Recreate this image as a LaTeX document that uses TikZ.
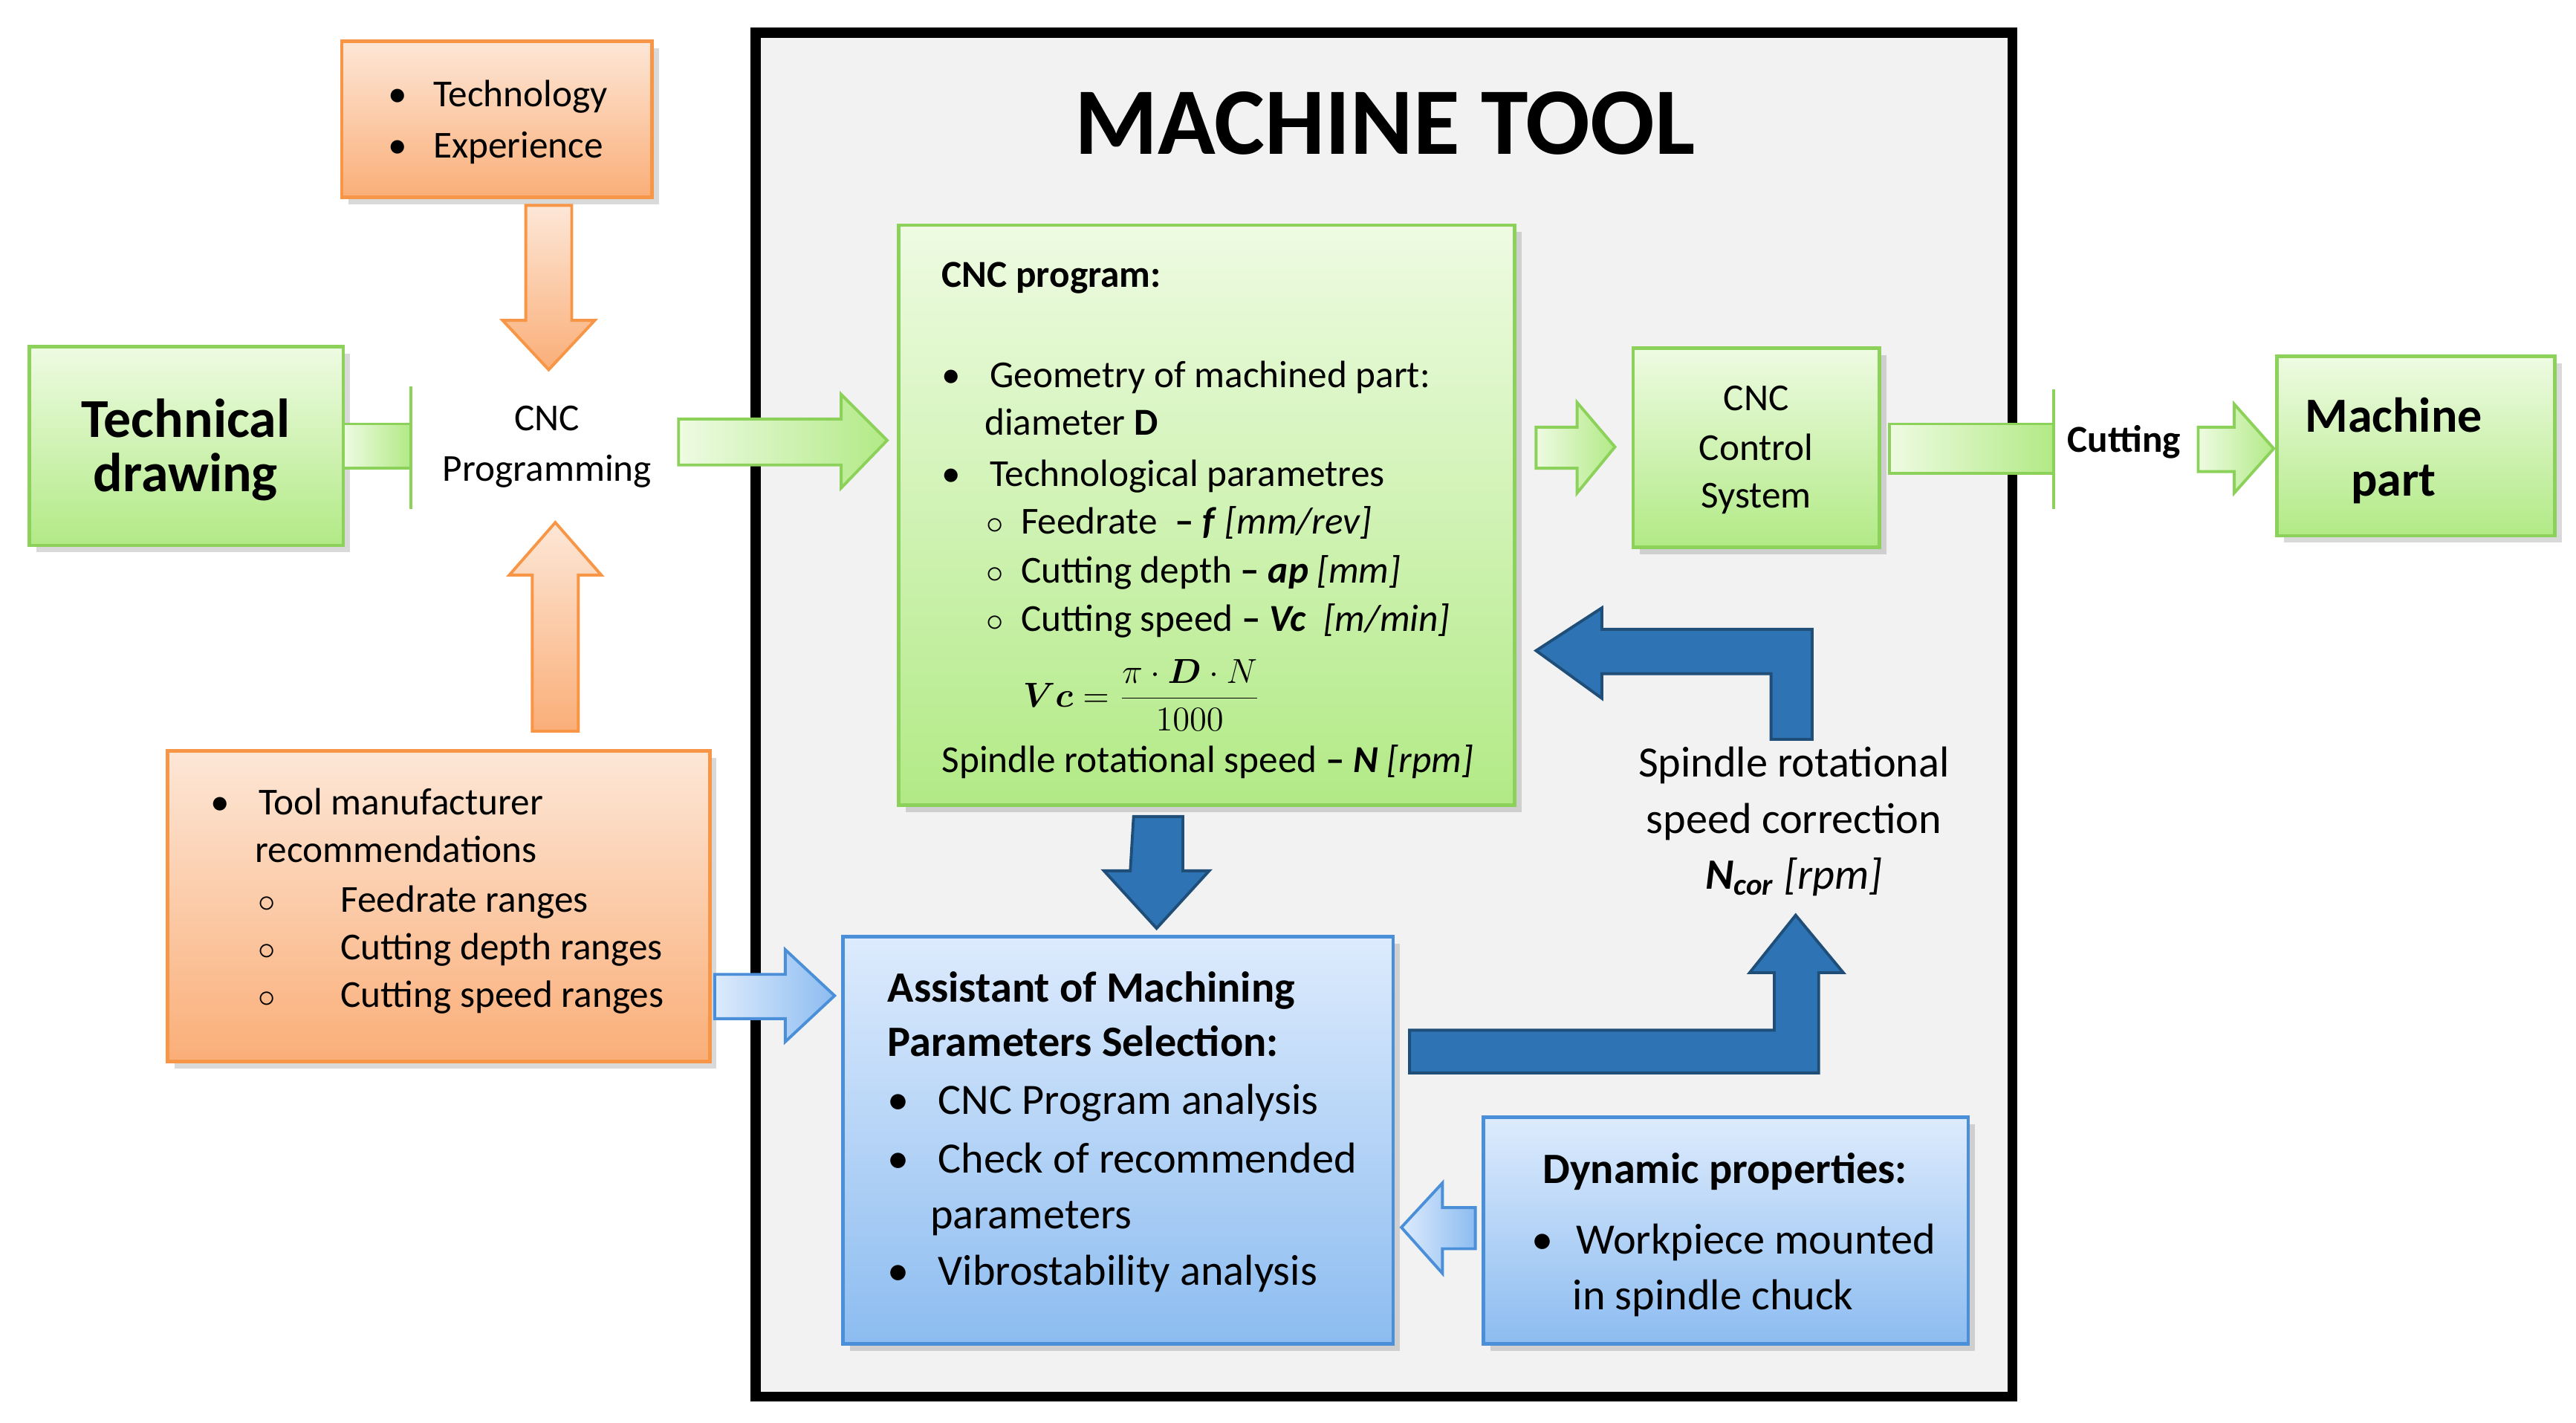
\documentclass[tikz,border=0pt]{standalone}
\usepackage{amsmath}
\usepackage{fontspec}
\setmainfont{Carlito}
\usetikzlibrary{shadows}
\definecolor{gT}{HTML}{EEFBE2}\definecolor{gB}{HTML}{B2EA86}\definecolor{gL}{HTML}{8CD25A}
\definecolor{oT}{HTML}{FDE7D7}\definecolor{oB}{HTML}{FAAE78}\definecolor{oL}{HTML}{F79646}
\definecolor{bT}{HTML}{DDEBFD}\definecolor{bB}{HTML}{8CBCF0}\definecolor{bL}{HTML}{4A8FD8}
\definecolor{dB}{HTML}{2E74B5}\definecolor{dL}{HTML}{1F4E79}
\tikzset{
 gbox/.style={draw=gL,line width=1.2pt,top color=gT,bottom color=gB,drop shadow={opacity=0.3}},
 obox/.style={draw=oL,line width=1.2pt,top color=oT,bottom color=oB,drop shadow={opacity=0.3}},
 bbox/.style={draw=bL,line width=1.2pt,top color=bT,bottom color=bB,drop shadow={opacity=0.3}},
 garr/.style={draw=gL,line width=1pt,left color=gT,right color=gB},
 oarr/.style={draw=oL,line width=1pt,top color=oT,bottom color=oB},
 barr/.style={draw=bL,line width=1pt,left color=bT,right color=bB},
 darr/.style={draw=dL,line width=1pt,fill=dB},
 t/.style={font=\fontsize{13.2}{16}\selectfont,anchor=base west,inner sep=0pt},
 tc/.style={font=\fontsize{13.2}{16}\selectfont,anchor=base,inner sep=0pt},
 tb/.style={font=\fontsize{15}{18}\selectfont,anchor=base west,inner sep=0pt},
}
\begin{document}
\begin{tikzpicture}[x=0.02cm,y=-0.02cm]
\useasboundingbox (0,0) rectangle (1568,866);
% machine tool
\draw[line width=3.5pt,fill=gray!10] (460,20) rectangle (1225,850);
\node[font=\fontsize{33}{38}\selectfont\bfseries] (title) at (843,75) {MACHINE TOOL};
% boxes
\path[obox] (208,25) rectangle (397,120); \node (otop) at (302,72) {};
\node[t] at (236,65) {\textbullet\hspace{9pt}Technology};
\node[t] at (236,96) {\textbullet\hspace{9pt}Experience};
\path[gbox] (18,211) rectangle (209,332); \node (td) at (113,271) {};
\node[tc,font=\fontsize{19}{23}\selectfont\bfseries] at (113,266) {Technical};
\node[tc,font=\fontsize{19}{23}\selectfont\bfseries] at (113,299) {drawing};
\node[tc] (prog) at (333,262) {CNC};
\node[tc] at (333,293) {Programming};
\path[gbox] (547,137) rectangle (922,490); \node (cnc) at (734,313) {};
\node[t] at (573,175) {\textbf{CNC program:}};
\node[t] at (573,236) {\textbullet\hspace{10pt}Geometry of machined part:};
\node[t] at (599,265) {diameter \textbf{D}};
\node[t] at (573,296) {\textbullet\hspace{10pt}Technological parametres};
\node[t] at (600,325) {$\circ$\hspace{6pt}Feedrate \textbf{\ – \textit{f}} \textit{[mm/rev]}};
\node[t] at (600,355) {$\circ$\hspace{6pt}Cutting depth \textbf{– \textit{ap}} \textit{[mm]}};
\node[t] at (600,384) {$\circ$\hspace{6pt}Cutting speed \textbf{– \textit{Vc}} \ \textit{[m/min]}};
\node[inner sep=0pt,font=\fontsize{12}{14}\selectfont] at (695,423) {$\boldsymbol{Vc}=\dfrac{\pi\cdot\boldsymbol{D}\cdot N}{1000}$};
\node[t] at (573,470) {Spindle rotational speed \textbf{– \textit{N}} \textit{[rpm]}};
\path[gbox] (994,212) rectangle (1144,333); \node (ctrl) at (1069,272) {};
\node[tc] at (1069,250) {CNC}; \node[tc] at (1069,280) {Control}; \node[tc] at (1069,309) {System};
\node[tc] (cut) at (1293,275) {\textbf{Cutting}};
\path[gbox] (1386,217) rectangle (1555,326); \node (mp) at (1470,271) {};
\node[tc,font=\fontsize{17}{21}\selectfont\bfseries] at (1457,263) {Machine};
\node[tc,font=\fontsize{17}{21}\selectfont\bfseries] at (1457,302) {part};
\path[obox] (102,457) rectangle (432,646); \node (obot) at (267,551) {};
\node[t] at (128,496) {\textbullet\hspace{10pt}Tool manufacturer};
\node[t] at (155,525) {recommendations};
\foreach \y in {555,584,613} \node[t] at (157,\y) {$\circ$};
\node[t] at (207,555) {Feedrate ranges};
\node[t] at (207,584) {Cutting depth ranges};
\node[t] at (207,613) {Cutting speed ranges};
\path[bbox] (513,570) rectangle (848,818); \node (amps) at (680,694) {};
\node[tb] at (540,610) {\textbf{Assistant of Machining}};
\node[tb] at (540,643) {\textbf{Parameters Selection:}};
\node[tb] at (540,678) {\textbullet\hspace{10pt}CNC Program analysis};
\node[tb] at (540,714) {\textbullet\hspace{10pt}Check of recommended};
\node[tb] at (566,748) {parameters};
\node[tb] at (540,782) {\textbullet\hspace{10pt}Vibrostability analysis};
\path[bbox] (903,680) rectangle (1198,818); \node (dyn) at (1050,749) {};
\node[tb,anchor=base] at (1050,720) {\textbf{Dynamic properties:}};
\node[tb] at (932,763) {\textbullet\hspace{8pt}Workpiece mounted};
\node[tb] at (957,797) {in spindle chuck};
\node[tb,anchor=base] (ncor) at (1092,473) {Spindle rotational};
\node[tb,anchor=base] at (1092,507) {speed correction};
\node[tb,anchor=base] at (1092,541) {\textbf{\textit{N}}\textsubscript{\textbf{\textit{cor}}} \textit{[rpm]}};
% arrows
\path[oarr] (320,125)--(348,125)--(348,195)--(362,195)--(334,225)--(306,195)--(320,195)--cycle;
\path[oarr] (324,445)--(352,445)--(352,350)--(366,350)--(338,318)--(310,350)--(324,350)--cycle;
\path[garr] (209,258) rectangle (250,285); \draw[gL,line width=1pt] (250,235)--(250,310);
\path[garr] (413,255)--(512,255)--(512,240)--(540,268)--(512,297)--(512,283)--(413,283)--cycle;
\path[garr] (935,260)--(960,260)--(960,245)--(983,272)--(960,300)--(960,285)--(935,285)--cycle;
\path[garr] (1150,258) rectangle (1250,288); \draw[gL,line width=1pt] (1250,237)--(1250,310);
\path[garr] (1338,260)--(1360,260)--(1360,246)--(1384,273)--(1360,300)--(1360,287)--(1338,287)--cycle;
\path[barr] (435,593)--(478,593)--(478,578)--(508,606)--(478,634)--(478,620)--(435,620)--cycle;
\path[barr] (898,735)--(878,735)--(878,720)--(853,747)--(878,775)--(878,760)--(898,760)--cycle;
\path[darr] (690,497)--(720,497)--(720,530)--(736,530)--(704,565)--(672,530)--(688,530)--cycle;
\path[darr] (858,627)--(1080,627)--(1080,592)--(1065,592)--(1093,557)--(1122,592)--(1107,592)--(1107,653)--(858,653)--cycle;
\path[darr] (1103,383)--(1103,450)--(1078,450)--(1078,410)--(975,410)--(975,425)--(935,396)--(975,370)--(975,383)--cycle;
\end{tikzpicture}
\end{document}
